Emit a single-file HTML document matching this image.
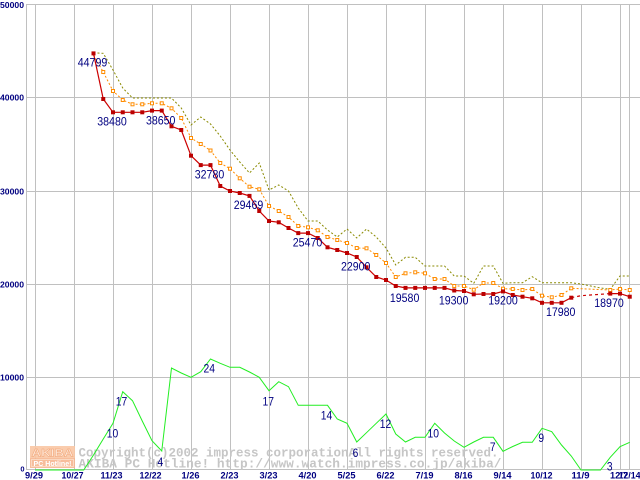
<!DOCTYPE html>
<html>
<head>
<meta charset="utf-8">
<style>
html,body{margin:0;padding:0;background:#fff;}
svg{display:block;}
.ax{font-family:"Liberation Sans",sans-serif;font-weight:bold;fill:#000080;}
.vl{font-family:"Liberation Sans",sans-serif;font-size:12px;fill:#000080;}
.cp{font-family:"Liberation Mono",monospace;font-weight:bold;font-size:12.5px;fill:#c6c6c6;}
</style>
</head>
<body>
<svg width="640" height="480" viewBox="0 0 640 480" xmlns="http://www.w3.org/2000/svg">
<rect x="0" y="0" width="640" height="480" fill="#fff"/>
<!-- grid -->
<g stroke="#c0c0c0" stroke-width="1" fill="none" shape-rendering="crispEdges">
<line x1="26" y1="4.5" x2="640" y2="4.5"/>
<line x1="26" y1="97.5" x2="640" y2="97.5"/>
<line x1="26" y1="191.5" x2="640" y2="191.5"/>
<line x1="26" y1="284.5" x2="640" y2="284.5"/>
<line x1="26" y1="377.5" x2="640" y2="377.5"/>
<line x1="26" y1="469.5" x2="640" y2="469.5"/>
<line x1="26.5" y1="4" x2="26.5" y2="470"/>
<line x1="35.5" y1="4" x2="35.5" y2="470"/>
<line x1="74.5" y1="4" x2="74.5" y2="470"/>
<line x1="113.5" y1="4" x2="113.5" y2="470"/>
<line x1="152.5" y1="4" x2="152.5" y2="470"/>
<line x1="191.5" y1="4" x2="191.5" y2="470"/>
<line x1="230.5" y1="4" x2="230.5" y2="470"/>
<line x1="269.5" y1="4" x2="269.5" y2="470"/>
<line x1="308.5" y1="4" x2="308.5" y2="470"/>
<line x1="347.5" y1="4" x2="347.5" y2="470"/>
<line x1="386.5" y1="4" x2="386.5" y2="470"/>
<line x1="425.5" y1="4" x2="425.5" y2="470"/>
<line x1="464.5" y1="4" x2="464.5" y2="470"/>
<line x1="503.5" y1="4" x2="503.5" y2="470"/>
<line x1="542.5" y1="4" x2="542.5" y2="470"/>
<line x1="581.5" y1="4" x2="581.5" y2="470"/>
<line x1="620.5" y1="4" x2="620.5" y2="470"/>
<line x1="629.5" y1="4" x2="629.5" y2="470"/>
</g>
<!-- y axis labels -->
<g class="ax" font-size="8.5" text-anchor="end">
<text x="24" y="8" textLength="24" lengthAdjust="spacingAndGlyphs">50000</text>
<text x="24" y="100.5" textLength="24" lengthAdjust="spacingAndGlyphs">40000</text>
<text x="24" y="194.5" textLength="24" lengthAdjust="spacingAndGlyphs">30000</text>
<text x="24" y="287.5" textLength="24" lengthAdjust="spacingAndGlyphs">20000</text>
<text x="24" y="380.5" textLength="24" lengthAdjust="spacingAndGlyphs">10000</text>
<text x="24.5" y="471.5" font-size="7.5">0</text>
</g>
<!-- x axis labels -->
<g class="ax" font-size="9.5" text-anchor="middle">
<text x="34" y="478.5" textLength="18" lengthAdjust="spacingAndGlyphs">9/29</text>
<text x="72.5" y="478.5" textLength="22" lengthAdjust="spacingAndGlyphs">10/27</text>
<text x="111.5" y="478.5" textLength="22" lengthAdjust="spacingAndGlyphs">11/23</text>
<text x="150.5" y="478.5" textLength="22" lengthAdjust="spacingAndGlyphs">12/22</text>
<text x="190.5" y="478.5" textLength="18" lengthAdjust="spacingAndGlyphs">1/26</text>
<text x="229.5" y="478.5" textLength="18" lengthAdjust="spacingAndGlyphs">2/23</text>
<text x="268.5" y="478.5" textLength="18" lengthAdjust="spacingAndGlyphs">3/23</text>
<text x="307.5" y="478.5" textLength="18" lengthAdjust="spacingAndGlyphs">4/20</text>
<text x="346.5" y="478.5" textLength="18" lengthAdjust="spacingAndGlyphs">5/25</text>
<text x="385.5" y="478.5" textLength="18" lengthAdjust="spacingAndGlyphs">6/22</text>
<text x="424.5" y="478.5" textLength="18" lengthAdjust="spacingAndGlyphs">7/19</text>
<text x="463.5" y="478.5" textLength="18" lengthAdjust="spacingAndGlyphs">8/16</text>
<text x="502.5" y="478.5" textLength="18" lengthAdjust="spacingAndGlyphs">9/14</text>
<text x="541.5" y="478.5" textLength="22" lengthAdjust="spacingAndGlyphs">10/12</text>
<text x="580.5" y="478.5" textLength="18" lengthAdjust="spacingAndGlyphs">11/9</text>
<text x="619" y="478.5" textLength="18" lengthAdjust="spacingAndGlyphs">12/7</text>
<text x="629.5" y="478.5" textLength="22" lengthAdjust="spacingAndGlyphs">12/14</text>
</g>
<!-- watermark -->
<g>
<rect x="30" y="446" width="45" height="12" fill="#f9c6a4" opacity="0.9"/>
<rect x="30" y="458" width="45" height="10" fill="#f6b690" opacity="0.9"/>
<rect x="31.5" y="459.5" width="42" height="7" fill="none" stroke="#fbd9c2" stroke-width="1"/>
<text x="52.5" y="456.5" text-anchor="middle" font-family="Liberation Sans,sans-serif" font-weight="bold" font-size="11" fill="#fde6d6" stroke="#f0a070" stroke-width="0.4" textLength="42" lengthAdjust="spacingAndGlyphs">AKIBA</text>
<text x="52.5" y="466" text-anchor="middle" font-family="Liberation Sans,sans-serif" font-weight="bold" font-size="7.5" fill="#ffffff" textLength="38" lengthAdjust="spacingAndGlyphs">PC Hotline!</text>
<text class="cp" x="78.5" y="456.5" textLength="420" lengthAdjust="spacingAndGlyphs">Copyright(c)2002 impress corporationAll rights reserved.</text>
<text class="cp" x="78.5" y="467.5" textLength="423" lengthAdjust="spacingAndGlyphs">AKIBA PC Hotline!  http://www.watch.impress.co.jp/akiba/</text>
</g>
<!-- olive series -->
<polyline fill="none" stroke="#8a8a00" stroke-width="1" stroke-dasharray="2,2" points="93.5,52.7 103.25,53.3 113,70 122.75,88 132.5,98 142.25,98 152,98 161.75,98 171.5,98 181.25,108 191,125 200.75,117 210.5,124 220.25,136 230,150 239.75,162 249.5,173 259.25,163 269,190 278.75,185 288.5,191 298.25,208 308,221 317.75,221 327.5,230 337.25,237 347,229 356.75,238 366.5,229 376.25,237 386,248 395.75,265 405.5,257.3 415.25,257.3 425,266 434.75,266 444.5,266 454.25,276 464,276 473.75,283.3 483.5,266 493.25,266 503,283.3 512.75,282.7 522.5,282.7 532.25,276.7 542,282.7 551.75,282.7 561.5,282.7 571.25,282.7 581,284 590.75,286 600.5,288 610.25,289.3 620,276 629.75,276"/>
<!-- orange series -->
<polyline fill="none" stroke="#ff8c00" stroke-width="1" stroke-dasharray="2,2" points="93.5,55 103.25,72 113,91 122.75,100 132.5,104.3 142.25,104.3 152,103.3 161.75,103.3 171.5,108.3 181.25,118 191,138 200.75,144 210.5,150.5 220.25,163 230,168.7 239.75,178.3 249.5,186.7 259.25,189.3 269,206 278.75,211 288.5,217 298.25,226 308,227.3 317.75,230.3 327.5,237 337.25,240 347,243 356.75,248 366.5,248.3 376.25,255 386,263 395.75,277 405.5,273.3 415.25,272.3 425,273.3 434.75,279 444.5,279 454.25,286 464,286 473.75,289.7 483.5,283 493.25,283 503,288.7 512.75,289 522.5,290 532.25,289 542,295.7 551.75,297.3 561.5,295 571.25,288.3 610.25,290 620,289 629.75,290"/>
<g fill="#fff" stroke="#ff8c00" stroke-width="1" transform="translate(0.5,0.5)">
<rect x="101.25" y="70" width="3" height="3"/><rect x="111" y="89" width="3" height="3"/><rect x="120.75" y="98" width="3" height="3"/><rect x="130.5" y="102.3" width="3" height="3"/><rect x="140.25" y="102.3" width="3" height="3"/><rect x="150" y="101.3" width="3" height="3"/><rect x="159.75" y="101.3" width="3" height="3"/><rect x="169.5" y="106.3" width="3" height="3"/><rect x="179.25" y="116" width="3" height="3"/><rect x="189" y="136" width="3" height="3"/><rect x="198.75" y="142" width="3" height="3"/><rect x="208.5" y="148.5" width="3" height="3"/><rect x="218.25" y="161" width="3" height="3"/><rect x="228" y="166.7" width="3" height="3"/><rect x="237.75" y="176.3" width="3" height="3"/><rect x="247.5" y="184.7" width="3" height="3"/><rect x="257.25" y="187.3" width="3" height="3"/><rect x="267" y="204" width="3" height="3"/><rect x="276.75" y="209" width="3" height="3"/><rect x="286.5" y="215" width="3" height="3"/><rect x="296.25" y="224" width="3" height="3"/><rect x="306" y="225.3" width="3" height="3"/><rect x="315.75" y="228.3" width="3" height="3"/><rect x="325.5" y="235" width="3" height="3"/><rect x="335.25" y="238" width="3" height="3"/><rect x="345" y="241" width="3" height="3"/><rect x="354.75" y="246" width="3" height="3"/><rect x="364.5" y="246.3" width="3" height="3"/><rect x="374.25" y="253" width="3" height="3"/><rect x="384" y="261" width="3" height="3"/><rect x="393.75" y="275" width="3" height="3"/><rect x="403.5" y="271.3" width="3" height="3"/><rect x="413.25" y="270.3" width="3" height="3"/><rect x="423" y="271.3" width="3" height="3"/><rect x="432.75" y="277" width="3" height="3"/><rect x="442.5" y="277" width="3" height="3"/><rect x="452.25" y="284" width="3" height="3"/><rect x="462" y="284" width="3" height="3"/><rect x="471.75" y="287.7" width="3" height="3"/><rect x="481.5" y="281" width="3" height="3"/><rect x="491.25" y="281" width="3" height="3"/><rect x="501" y="286.7" width="3" height="3"/><rect x="510.75" y="287" width="3" height="3"/><rect x="520.5" y="288" width="3" height="3"/><rect x="530.25" y="287" width="3" height="3"/><rect x="540" y="293.7" width="3" height="3"/><rect x="549.75" y="295.3" width="3" height="3"/><rect x="559.5" y="293" width="3" height="3"/><rect x="569.25" y="286.3" width="3" height="3"/><rect x="608.25" y="288" width="3" height="3"/><rect x="618" y="287" width="3" height="3"/><rect x="627.75" y="288" width="3" height="3"/>
</g>
<!-- red series -->
<polyline fill="none" stroke="#cc0000" stroke-width="1.2" points="93.5,53.4 103.25,99 113,112.3 122.75,112.3 132.5,112.3 142.25,112.3 152,110.6 161.75,110.6 171.5,126.3 181.25,130 191,155.7 200.75,165.1 210.5,165.1 220.25,186 230,191 239.75,193 249.5,195.9 259.25,211 269,221 278.75,222.3 288.5,228 298.25,233.1 308,233.1 317.75,238 327.5,247.3 337.25,250 347,253 356.75,257 366.5,267.3 376.25,277 386,280 395.75,286 405.5,287.9 415.25,287.9 425,287.9 434.75,287.9 444.5,287.9 454.25,290.5 464,291 473.75,294.3 483.5,294 493.25,294 503,291.4 512.75,295 522.5,296.7 532.25,298.3 542,302.8 551.75,302.8 561.5,302.8 571.25,297.7"/>
<polyline fill="none" stroke="#cc0000" stroke-width="1.2" stroke-dasharray="3,3" points="571.25,297.7 581,295.7 610.25,293.6"/>
<polyline fill="none" stroke="#cc0000" stroke-width="1.2" points="610.25,293.6 620,293.6 629.75,296.7"/>
<g fill="#bb0000">
<rect x="91.5" y="51.4" width="4" height="4"/><rect x="101.25" y="97" width="4" height="4"/><rect x="111" y="110.3" width="4" height="4"/><rect x="120.75" y="110.3" width="4" height="4"/><rect x="130.5" y="110.3" width="4" height="4"/><rect x="140.25" y="110.3" width="4" height="4"/><rect x="150" y="108.6" width="4" height="4"/><rect x="159.75" y="108.6" width="4" height="4"/><rect x="169.5" y="124.3" width="4" height="4"/><rect x="179.25" y="128" width="4" height="4"/><rect x="189" y="153.7" width="4" height="4"/><rect x="198.75" y="163.1" width="4" height="4"/><rect x="208.5" y="163.1" width="4" height="4"/><rect x="218.25" y="184" width="4" height="4"/><rect x="228" y="189" width="4" height="4"/><rect x="237.75" y="191" width="4" height="4"/><rect x="247.5" y="193.9" width="4" height="4"/><rect x="257.25" y="209" width="4" height="4"/><rect x="267" y="219" width="4" height="4"/><rect x="276.75" y="220.3" width="4" height="4"/><rect x="286.5" y="226" width="4" height="4"/><rect x="296.25" y="231.1" width="4" height="4"/><rect x="306" y="231.1" width="4" height="4"/><rect x="315.75" y="236" width="4" height="4"/><rect x="325.5" y="245.3" width="4" height="4"/><rect x="335.25" y="248" width="4" height="4"/><rect x="345" y="251" width="4" height="4"/><rect x="354.75" y="255" width="4" height="4"/><rect x="364.5" y="265.3" width="4" height="4"/><rect x="374.25" y="275" width="4" height="4"/><rect x="384" y="278" width="4" height="4"/><rect x="393.75" y="284" width="4" height="4"/><rect x="403.5" y="285.9" width="4" height="4"/><rect x="413.25" y="285.9" width="4" height="4"/><rect x="423" y="285.9" width="4" height="4"/><rect x="432.75" y="285.9" width="4" height="4"/><rect x="442.5" y="285.9" width="4" height="4"/><rect x="452.25" y="288.5" width="4" height="4"/><rect x="462" y="289" width="4" height="4"/><rect x="471.75" y="292.3" width="4" height="4"/><rect x="481.5" y="292" width="4" height="4"/><rect x="491.25" y="292" width="4" height="4"/><rect x="501" y="289.4" width="4" height="4"/><rect x="510.75" y="293" width="4" height="4"/><rect x="520.5" y="294.7" width="4" height="4"/><rect x="530.25" y="296.3" width="4" height="4"/><rect x="540" y="300.8" width="4" height="4"/><rect x="549.75" y="300.8" width="4" height="4"/><rect x="559.5" y="300.8" width="4" height="4"/><rect x="569.25" y="295.7" width="4" height="4"/><rect x="608.25" y="291.6" width="4" height="4"/><rect x="618" y="291.6" width="4" height="4"/><rect x="627.75" y="294.7" width="4" height="4"/>
</g>
<!-- green series -->
<polyline fill="none" stroke="#22ee22" stroke-width="1" points="35,470 44.75,470 54.5,470 64.25,470 74,470 83.75,470 93.5,455 103.25,439 113,423.3 122.75,391.7 132.5,400.7 142.25,421 152,440.7 161.75,451 171.5,368 181.25,373 191,377.3 200.75,371.7 210.5,359 220.25,363.3 230,367.3 239.75,367.3 249.5,372 259.25,377.3 269,390.7 278.75,381.7 288.5,386.7 298.25,405.3 308,405.3 317.75,405.3 327.5,405.3 337.25,419 347,423.3 356.75,442 366.5,432.7 376.25,423.3 386,414 395.75,434 405.5,442 415.25,437.3 425,437.3 434.75,423.3 444.5,433 454.25,441 464,447.3 473.75,442 483.5,437.3 493.25,437.3 503,451.3 512.75,446.5 522.5,442.3 532.25,442.3 542,428.3 551.75,431.7 561.5,445 571.25,456 581,470 590.75,470 600.5,470 610.25,457.3 620,446.7 629.75,442.3"/>
<!-- value labels -->
<g class="vl" text-anchor="middle">
<text x="92.5" y="66.5" textLength="29.5" lengthAdjust="spacingAndGlyphs">44799</text>
<text x="112" y="125.5" textLength="29.5" lengthAdjust="spacingAndGlyphs">38480</text>
<text x="160.7" y="124.5" textLength="29.5" lengthAdjust="spacingAndGlyphs">38650</text>
<text x="209.5" y="178.3" textLength="29.5" lengthAdjust="spacingAndGlyphs">32780</text>
<text x="248.5" y="209" textLength="29.5" lengthAdjust="spacingAndGlyphs">29469</text>
<text x="307.5" y="246.3" textLength="29.5" lengthAdjust="spacingAndGlyphs">25470</text>
<text x="355.7" y="270.5" textLength="29.5" lengthAdjust="spacingAndGlyphs">22900</text>
<text x="404.6" y="301.8" textLength="29.5" lengthAdjust="spacingAndGlyphs">19580</text>
<text x="453.6" y="304.5" textLength="29.5" lengthAdjust="spacingAndGlyphs">19300</text>
<text x="503" y="304.5" textLength="29.5" lengthAdjust="spacingAndGlyphs">19200</text>
<text x="560.7" y="316" textLength="29.5" lengthAdjust="spacingAndGlyphs">17980</text>
<text x="609" y="307.1" textLength="29.5" lengthAdjust="spacingAndGlyphs">18970</text>
<text x="112.5" y="437.5" textLength="11.5" lengthAdjust="spacingAndGlyphs">10</text>
<text x="121.5" y="405.3" textLength="11.5" lengthAdjust="spacingAndGlyphs">17</text>
<text x="160.3" y="465.9" textLength="5.7" lengthAdjust="spacingAndGlyphs">4</text>
<text x="209.3" y="372.6" textLength="11.5" lengthAdjust="spacingAndGlyphs">24</text>
<text x="268.3" y="405.3" textLength="11.5" lengthAdjust="spacingAndGlyphs">17</text>
<text x="326.5" y="419.5" textLength="11.5" lengthAdjust="spacingAndGlyphs">14</text>
<text x="355.5" y="456.8" textLength="5.7" lengthAdjust="spacingAndGlyphs">6</text>
<text x="385.5" y="428.1" textLength="11.5" lengthAdjust="spacingAndGlyphs">12</text>
<text x="433.3" y="437.3" textLength="11.5" lengthAdjust="spacingAndGlyphs">10</text>
<text x="492.7" y="451.1" textLength="5.7" lengthAdjust="spacingAndGlyphs">7</text>
<text x="541.2" y="442.1" textLength="5.7" lengthAdjust="spacingAndGlyphs">9</text>
<text x="609.7" y="470.3" textLength="5.7" lengthAdjust="spacingAndGlyphs">3</text>
</g>
</svg>
</body>
</html>
